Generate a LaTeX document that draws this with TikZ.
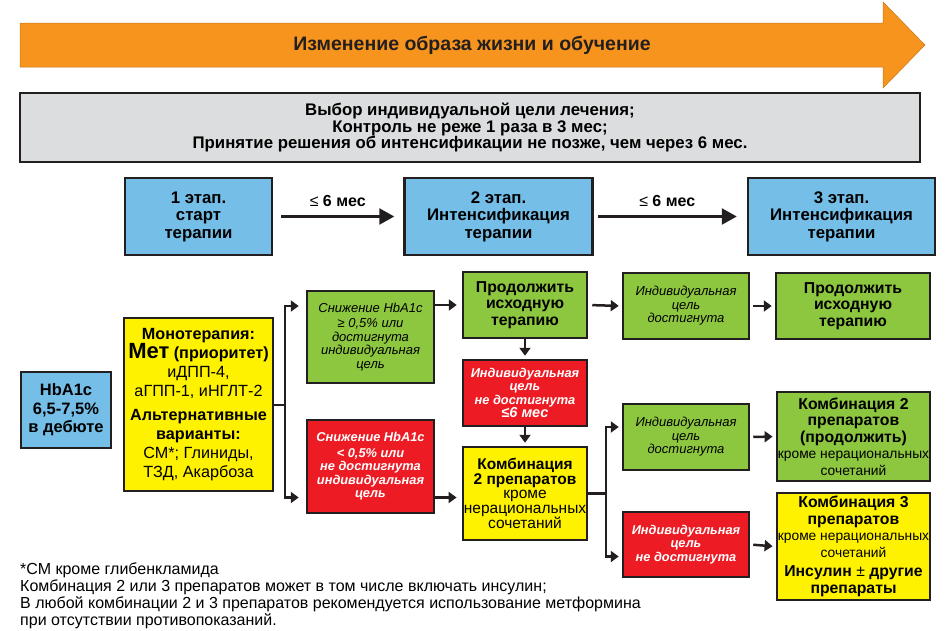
\documentclass[tikz,border=0pt]{standalone}
\usepackage{fontspec}
\setmainfont{Liberation Sans}
\usetikzlibrary{positioning,arrows.meta,calc}

\definecolor{lifeorange}{RGB}{247,148,29}
\definecolor{goalgray}{RGB}{220,221,222}
\definecolor{stageblue}{RGB}{116,190,232}
\definecolor{okgreen}{RGB}{141,198,63}
\definecolor{failred}{RGB}{237,28,36}
\definecolor{drugyellow}{RGB}{255,242,0}
\definecolor{inkdark}{RGB}{35,31,32}
\newcommand{\fsz}[2]{\fontsize{#1}{#2}\selectfont}

\begin{document}
\begin{tikzpicture}[
    x=1pt, y=-1pt,
    box/.style={draw=inkdark, line width=2.5pt, align=center, inner sep=1pt},
    stagebox/.style={box, fill=stageblue, minimum height=77pt,
                     font=\fsz{16.8}{17.5}\bfseries},
    greenbox/.style={box, fill=okgreen},
    redbox/.style={box, fill=failred, text=white,
                   font=\fsz{12.8}{13.5}\bfseries\itshape},
    yellowbox/.style={box, fill=drugyellow},
    note/.style={font=\fsz{13}{13.5}\itshape},
    boldtxt/.style={font=\fsz{15.8}{16.5}\bfseries},
    line/.style={draw=inkdark, line width=2.5pt},
    link/.style={line, -{Triangle[length=8pt,width=11pt]}, shorten >=5pt},
    bigarrow/.style={line, -{Triangle[length=15pt,width=16pt]}},
    timelbl/.style={midway, above=5pt, font=\fsz{16}{16}\bfseries},
  ]
  \useasboundingbox (0,0) rectangle (948,630);

  % --- top: lifestyle arrow and goal box ---
  \filldraw[fill=lifeorange, draw=lifeorange!80!black, line width=0.5pt]
    (20,23) -- (883,23) -- (883,2) -- (925,45) -- (883,88)
    -- (883,67) -- (20,67) -- cycle;
  \node[font=\fsz{19.5}{20}\bfseries, text=inkdark] (life) at (472,45)
    {Изменение образа жизни и обучение};

  \node[box, fill=goalgray, minimum width=900pt, minimum height=69pt,
        font=\fsz{16.8}{16.5}\bfseries] (goal) at (470,127.5)
    {Выбор индивидуальной цели лечения;\\
     Контроль не реже 1 раза в 3 мес;\\
     Принятие решения об интенсификации не позже, чем через 6 мес.};

  % --- stages ---
  \node[stagebox, minimum width=147pt] (stage1) at (198.5,216.5) {1 этап.\\старт\\терапии};
  \node[stagebox, minimum width=188pt, right=130pt of stage1] (stage2)
    {2 этап.\\Интенсификация\\терапии};
  \node[stagebox, minimum width=187pt, right=153pt of stage2] (stage3)
    {3 этап.\\Интенсификация\\терапии};

  \draw[bigarrow] ([xshift=8pt]stage1.east) -- ([xshift=-9pt]stage2.west)
    node[timelbl] {{\mdseries ≤} 6 мес};
  \draw[bigarrow] ([xshift=4pt]stage2.east) -- ([xshift=-10pt]stage3.west)
    node[timelbl] {{\mdseries ≤} 6 мес};

  % --- start of therapy ---
  \node[box, fill=stageblue, minimum width=90pt, minimum height=76pt,
        font=\fsz{16.5}{18.5}\bfseries] (hba) at (66,410) {HbA1c\\6,5-7,5\%\\в дебюте};

  \node[yellowbox, minimum width=149pt, minimum height=173pt,
        font=\fsz{16.2}{19}] (mono) at (198.5,404.5)
    {\textbf{Монотерапия:}\\
     {\fsz{22}{19}\bfseries Мет} \textbf{(приоритет)}\\
     иДПП-4,\\
     аГПП-1, иНГЛТ-2\\[5pt]
     \textbf{Альтернативные}\\
     \textbf{варианты:}\\
     СМ*; Глиниды,\\
     ТЗД, Акарбоза};

  \node[greenbox, note, minimum width=127pt, minimum height=92pt] (dgreen) at (370.5,337)
    {Снижение HbA1c\\[2pt] ≥ 0,5\% или\\достигнута\\индивидуальная\\цель};
  \node[redbox, minimum width=127pt, minimum height=93pt] (dred) at (370.5,466.5)
    {Снижение HbA1c\\[2pt] < 0,5\% или\\не достигнута\\индивидуальная\\цель};

  % --- stage 2 column ---
  \node[greenbox, boldtxt, minimum width=124pt, minimum height=66pt] (cont) at (525,305)
    {Продолжить\\исходную\\терапию};
  \node[redbox, minimum width=124pt, minimum height=66pt] (redmid) at (525,393)
    {Индивидуальная\\цель\\не достигнута\\{\fsz{14.5}{14}≤6 мес}};
  \node[yellowbox, minimum width=124pt, minimum height=93pt,
        font=\fsz{15.5}{14.5}] (comb2) at (525,493.5)
    {\textbf{Комбинация}\\\textbf{2 препаратов}\\кроме\\нерациональных\\сочетаний};

  % --- stage 3 column ---
  \node[greenbox, note, minimum width=126pt, minimum height=66pt] (goal1) at (686,306)
    {Индивидуальная\\цель\\достигнута};
  \node[greenbox, note, minimum width=126pt, minimum height=66pt] (goal2) at (686,437)
    {Индивидуальная\\цель\\достигнута};
  \node[redbox, minimum width=126pt, minimum height=65pt] (fail) at (686,544.5)
    {Индивидуальная\\цель\\не достигнута};

  \node[greenbox, boldtxt, minimum width=154pt, minimum height=66pt] (cont2) at (853,306)
    {Продолжить\\исходную\\терапию};
  \node[greenbox, boldtxt, minimum width=153pt, minimum height=89pt] (comb2b) at (853.5,436.5)
    {Комбинация 2\\препаратов\\(продолжить)\\
     {\fsz{13.8}{14}\mdseries кроме нерациональных}\\
     {\fsz{13.8}{14}\mdseries сочетаний}};
  \node[yellowbox, boldtxt, minimum width=153pt, minimum height=107pt] (comb3) at (853.5,546.5)
    {Комбинация 3\\препаратов\\
     {\fsz{13.8}{14}\mdseries кроме нерациональных}\\
     {\fsz{13.8}{14}\mdseries сочетаний}\\[3pt]
     Инсулин {\mdseries ±} другие\\препараты};

  % --- connectors ---
  \coordinate (fork1) at (285,405);
  \draw[line] (mono.east |- fork1) -- (fork1);
  \draw[link, shorten >=7pt] (fork1) |- ([yshift=31pt]dgreen.west);
  \draw[link, shorten >=7pt] (fork1) |- ([yshift=-31pt]dred.west);

  \draw[link] (dgreen.east |- cont.west) -- (cont.west);
  \draw[link] ([yshift=-31pt]dred.east) -- ([yshift=-31pt]dred.east -| comb2.west);
  \draw[link, shorten >=3pt] (cont.south) -- (redmid.north);
  \draw[link, shorten >=3pt] (redmid.south) -- (comb2.north);

  \coordinate (fork2) at (606,493.5);
  \draw[line] (comb2.east) -- (fork2);
  \draw[link, shorten >=3pt] (fork2) |- ([yshift=10pt]goal2.west);
  \draw[link, shorten >=3pt] (fork2) |- ([yshift=-12pt]fail.west);

  \draw[link, shorten <=4pt, shorten >=3pt] (cont.east) -- (goal1.west);
  \draw[link, shorten <=3pt, shorten >=3pt] (goal1.east) -- (cont2.west);
  \draw[link, shorten <=3pt, shorten >=3pt] (goal2.east) -- (comb2b.west);
  \draw[link, shorten <=3pt, shorten >=3pt] (fail.east) -- (comb3.west);

  % --- footnote ---
  \node[anchor=north west, align=left, inner sep=0pt, font=\fsz{16}{17}] (foot) at (20,563)
    {*СМ кроме глибенкламида\\
     Комбинация 2 или 3 препаратов может в том числе включать инсулин;\\
     В любой комбинации 2 и 3 препаратов рекомендуется использование метформина\\
     при отсутствии противопоказаний.};
\end{tikzpicture}
\end{document}
